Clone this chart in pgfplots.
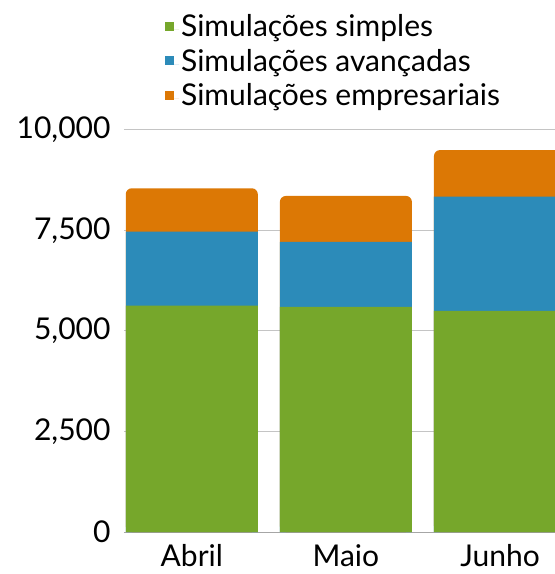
\documentclass[border=0pt]{standalone}
\usepackage{fontspec}
\setmainfont{Lato}
\usepackage{pgfplots}
\pgfplotsset{compat=1.18}

\definecolor{cgreen}{HTML}{76A72B}
\definecolor{cblue}{HTML}{2C8BB9}
\definecolor{corange}{HTML}{DC7805}
\definecolor{cgrid}{HTML}{C4C4C4}

% cumulative tops of each segment (simples, +avancadas, +empresariais)
\pgfplotstableread{
x  simples  avancadas  empresariais
0  5630     7470       8550
1  5600     7220       8360
2  5500     8340       9500
}\dados

\begin{document}
\begin{tikzpicture}
\useasboundingbox (-124pt,-42pt) rectangle (431pt,532pt);
\begin{axis}[
    at={(0,0)}, anchor=south west,
    scale only axis,
    width=431pt, height=402pt,
    font=\fontsize{30}{36}\selectfont,
    ybar, bar width=0.857, bar shift=0pt,
    xmin=-0.44, xmax=2.357,
    ymin=0, ymax=10000,
    xtick={0,1,2}, xticklabels={Abril,Maio,Junho},
    ytick={0,2500,5000,7500,10000},
    scaled y ticks=false,
    /pgf/number format/.cd, 1000 sep={,}, assume math mode=true, /pgfplots/.cd,
    major tick length=0pt,
    axis x line=bottom, axis y line=left,
    x axis line style={draw=gray!70, -},
    y axis line style={draw=none},
    ymajorgrids, grid style={cgrid, line width=1pt},
    yticklabel style={xshift=-10pt},
    xticklabel style={yshift=-9pt},
    reverse legend,
    legend cell align=left,
    legend style={at={(0.088,1.297)}, anchor=north west, draw=none, fill=none,
        row sep=0.5pt, nodes={inner sep=2pt, text height=22pt, text depth=8pt}},
    legend image code/.code={\fill[#1, draw=none, sharp corners] (0pt,-1pt) rectangle (9pt,8pt);
        \path (9pt,0pt) -- (14pt,0pt);},
]
\addplot[fill=corange, draw=none, rounded corners=6pt] table[x=x, y=empresariais] {\dados};
\addlegendentry{Simulações empresariais}
\addplot[fill=cblue, draw=none] table[x=x, y=avancadas] {\dados};
\addlegendentry{Simulações avançadas}
\addplot[fill=cgreen, draw=none] table[x=x, y=simples] {\dados};
\addlegendentry{Simulações simples}
\end{axis}
\end{tikzpicture}
\end{document}
